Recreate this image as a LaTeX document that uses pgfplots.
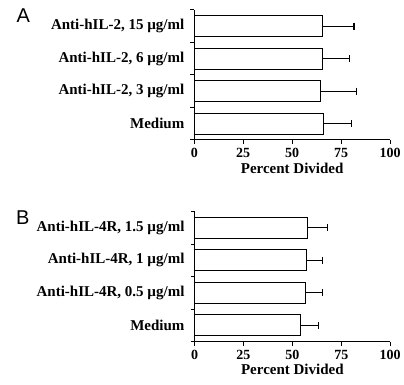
\documentclass[border=0pt]{standalone}
\usepackage{pgfplots}
\pgfplotsset{compat=1.18}
\usepackage{fontspec}
\setmainfont{Liberation Serif}
\newfontfamily\panelfont{Liberation Sans}
\pgfplotsset{
  panel/.style={
    scale only axis, width=195.7pt, height=130pt,
    xmin=0, xmax=100, ymin=-0.5, ymax=3.5,
    xbar, bar width=21pt, bar shift=0pt,
    axis x line*=bottom, axis y line*=left,
    axis line style={-, line width=1pt},
    tick align=outside, major tick length=4pt,
    every tick/.style={black, line width=1pt},
    xtick={0,25,50,75,100},
    ytick={-0.5,0.5,1.5,2.5,3.5}, yticklabels={},
    extra y ticks={0,1,2,3},
    extra y tick style={major tick length=0pt},
    yticklabel style={font=\bfseries\fontsize{15}{17}\selectfont, xshift=-6.5pt},
    xticklabel style={font=\bfseries\fontsize{14}{16}\selectfont, yshift=-1pt},
    /pgf/number format/assume math mode=true,
    xlabel={Percent Divided},
    xlabel style={font=\bfseries\fontsize{15}{17}\selectfont, yshift=2pt},
    clip=false,
  }
}
\begin{document}
\begin{tikzpicture}
\useasboundingbox (0,0) rectangle (404pt,385pt);
\node[anchor=north west, inner sep=0pt, font=\panelfont\fontsize{20}{22}\selectfont] at (16.5pt,376.7pt) {A};
\node[anchor=north west, inner sep=0pt, font=\panelfont\fontsize{20}{22}\selectfont] at (16pt,174pt) {B};
\begin{axis}[panel, at={(194.3pt,245pt)}, anchor=south west,
  extra y tick labels={Medium, {Anti-hIL-2, 3 µg/ml}, {Anti-hIL-2, 6 µg/ml}, {Anti-hIL-2, 15 µg/ml}}]
\addplot[draw=black, fill=white, line width=1.1pt,
  error bars/.cd, x dir=plus, x explicit,
  error bar style={line width=1.1pt}, error mark options={rotate=90, mark size=3.5pt, line width=1.1pt}]
  coordinates {
    (66.0,0) +- (14.5,0)
    (64.6,1) +- (18.2,0)
    (65.3,2) +- (14.0,0)
    (65.7,3) +- (15.9,0)
  };
\end{axis}
\begin{axis}[panel, at={(194.5pt,43.3pt)}, anchor=south west,
  extra y tick labels={Medium, {Anti-hIL-4R, 0.5 µg/ml}, {Anti-hIL-4R, 1 µg/ml}, {Anti-hIL-4R, 1.5 µg/ml}}]
\addplot[draw=black, fill=white, line width=1.1pt,
  error bars/.cd, x dir=plus, x explicit,
  error bar style={line width=1.1pt}, error mark options={rotate=90, mark size=3.5pt, line width=1.1pt}]
  coordinates {
    (54.0,0) +- (9.5,0)
    (56.5,1) +- (8.9,0)
    (57.0,2) +- (8.4,0)
    (57.7,3) +- (10.1,0)
  };
\end{axis}
\end{tikzpicture}
\end{document}
